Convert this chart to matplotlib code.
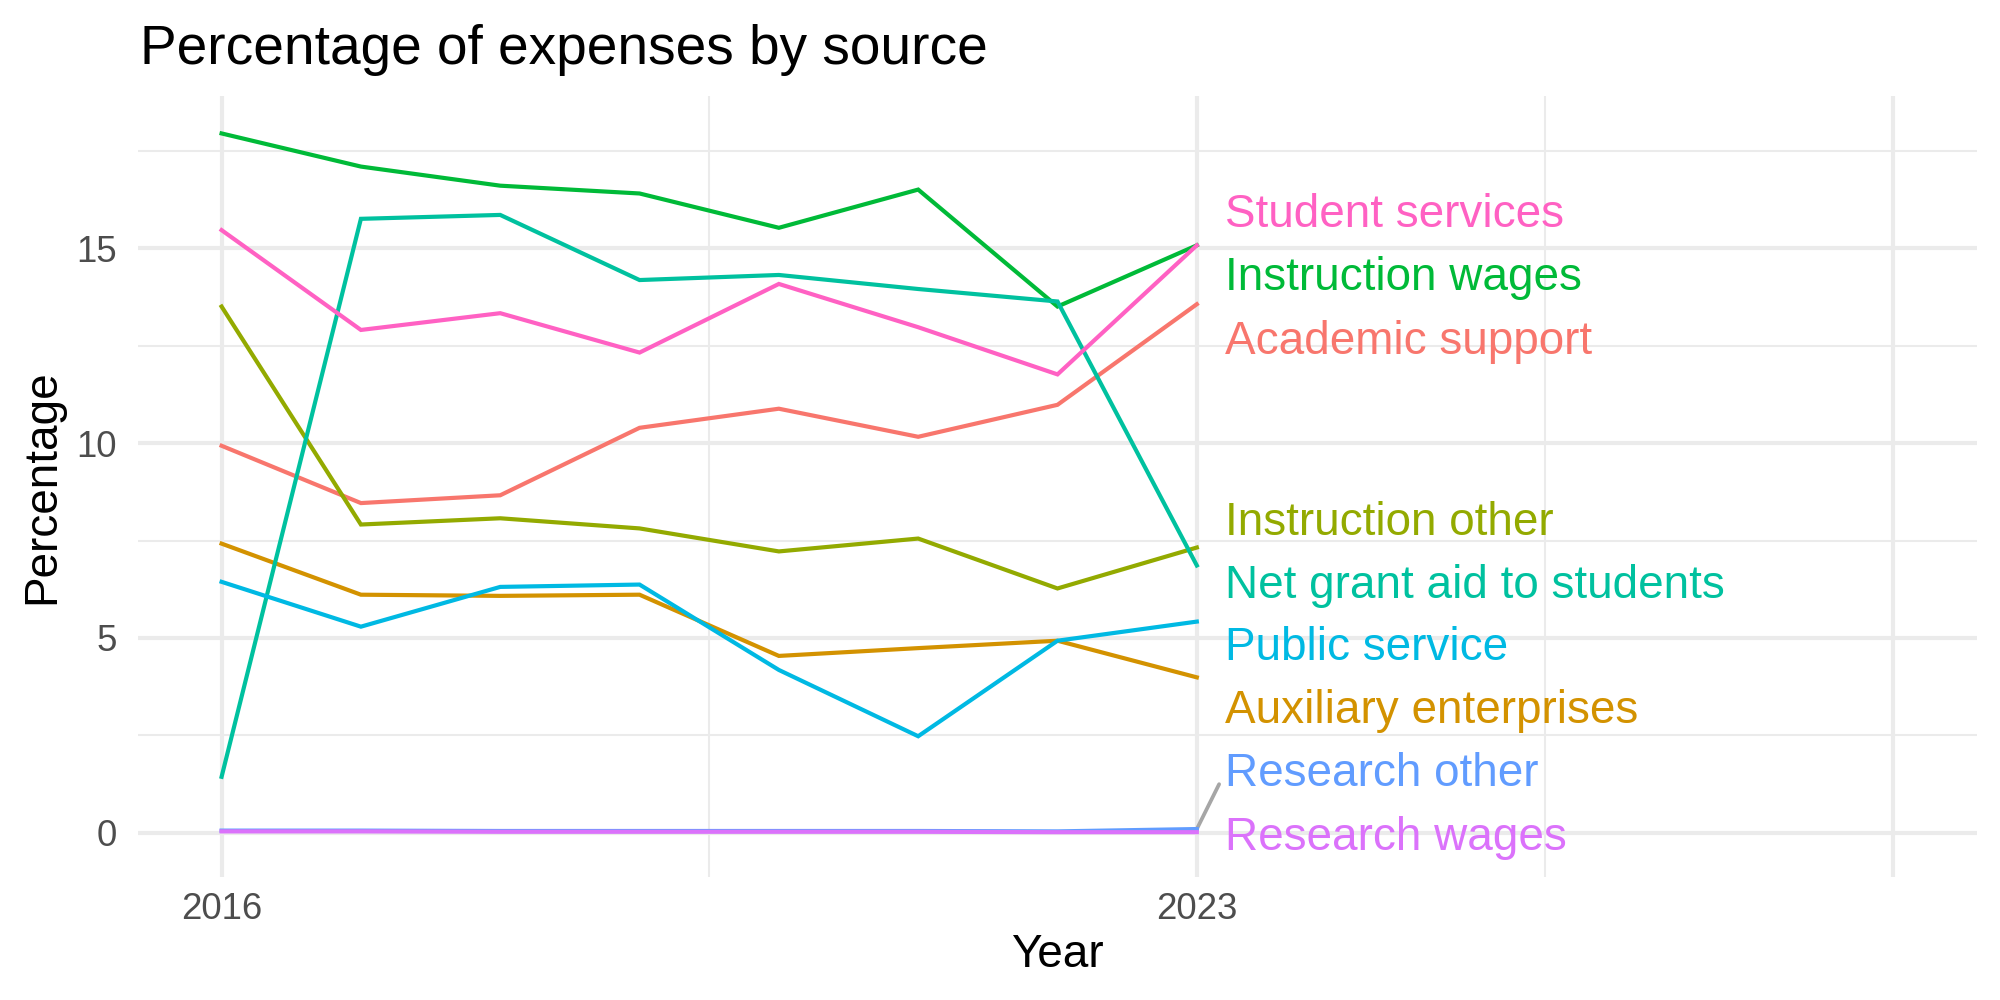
import matplotlib.pyplot as plt
from matplotlib.ticker import FixedLocator

plt.rcParams["font.family"] = ["Liberation Sans", "DejaVu Sans"]

# data
years = [2016, 2017, 2018, 2019, 2020, 2021, 2022, 2023]

academic_support = [9.93, 8.46, 8.66, 10.39, 10.88, 10.16, 10.98, 13.56]
auxiliary_enterprises = [7.42, 6.11, 6.08, 6.11, 4.54, 4.74, 4.93, 3.99]
instruction_other = [13.50, 7.91, 8.07, 7.81, 7.22, 7.55, 6.27, 7.32]
instruction_wages = [17.94, 17.09, 16.60, 16.40, 15.52, 16.50, 13.50, 15.07]
net_grant_aid = [1.44, 15.75, 15.85, 14.18, 14.31, 13.95, 13.63, 6.86]
public_service = [6.44, 5.29, 6.31, 6.37, 4.18, 2.48, 4.93, 5.42]
research_other = [0.06, 0.06, 0.05, 0.05, 0.05, 0.05, 0.04, 0.10]
research_wages = [0.04, 0.04, 0.03, 0.03, 0.03, 0.03, 0.02, 0.02]
student_services = [15.46, 12.90, 13.33, 12.32, 14.08, 12.97, 11.76, 15.07]

sources = ["Academic support", "Auxiliary enterprises", "Instruction other",
           "Instruction wages", "Net grant aid to students", "Public service",
           "Research other", "Research wages", "Student services"]
values = [academic_support, auxiliary_enterprises, instruction_other,
          instruction_wages, net_grant_aid, public_service,
          research_other, research_wages, student_services]
colors = ["#F8766D", "#D39200", "#93AA00", "#00BA38", "#00C19F",
          "#00B9E3", "#619CFF", "#DB72FB", "#FF61C3"]

# where the repelled end labels ended up in the reference
label_y = [12.60, 3.12, 7.95, 14.24, 6.34, 4.74, 1.52, -0.12, 15.84]

fig = plt.figure(figsize=(2000 / 300, 1000 / 300), dpi=300)
ax = fig.add_axes([0.069, 0.123, 0.9195, 0.781])

for src, vals, col in zip(sources, values, colors):
    ax.plot(years, vals, color=col, lw=1.0, solid_joinstyle="miter", zorder=3)

# end labels with a leader segment when the label sits far from the line end
for src, vals, col, ly in zip(sources, values, colors, label_y):
    ax.text(years[-1] + 0.2, ly, src, color=col, fontsize=11,
            ha="left", va="center", zorder=4)
    if abs(ly - vals[-1]) > 1.0:
        ax.plot([years[-1], years[-1] + 0.16], [vals[-1], ly - 0.27],
                color="#A6A6A6", lw=0.9, zorder=2, solid_capstyle="round")

ax.set_xlim(2015.4, 2028.6)
ax.set_ylim(-1.13, 18.9)

ax.xaxis.set_major_locator(FixedLocator([2016, 2023, 2028]))
ax.xaxis.set_minor_locator(FixedLocator([2019.5, 2025.5]))
ax.set_xticklabels(["2016", "2023", ""])
ax.set_yticks([0, 5, 10, 15])
ax.yaxis.set_minor_locator(FixedLocator([2.5, 7.5, 12.5, 17.5]))

ax.grid(which="major", color="#EBEBEB", lw=1.0)
ax.grid(which="minor", color="#EBEBEB", lw=0.5)
ax.set_axisbelow(True)
for s in ax.spines.values():
    s.set_visible(False)
ax.tick_params(which="both", length=0)
ax.tick_params(axis="y", labelsize=8.8, labelcolor="#4D4D4D", pad=5)
ax.tick_params(axis="x", labelsize=8.8, labelcolor="#4D4D4D", pad=3.5)

ax.set_xlabel("Year", fontsize=11, color="black")
ax.set_ylabel("Percentage", fontsize=11, color="black")
ax.xaxis.set_label_coords(0.5, -0.1)
ax.yaxis.set_label_coords(-0.0522, 0.5)
ax.xaxis.label.set_va("center")
ax.yaxis.label.set_va("center")

fig.text(0.070, 1 - 0.064, "Percentage of expenses by source",
         fontsize=13.2, ha="left", va="baseline")

fig.savefig("out.png", dpi=300)
